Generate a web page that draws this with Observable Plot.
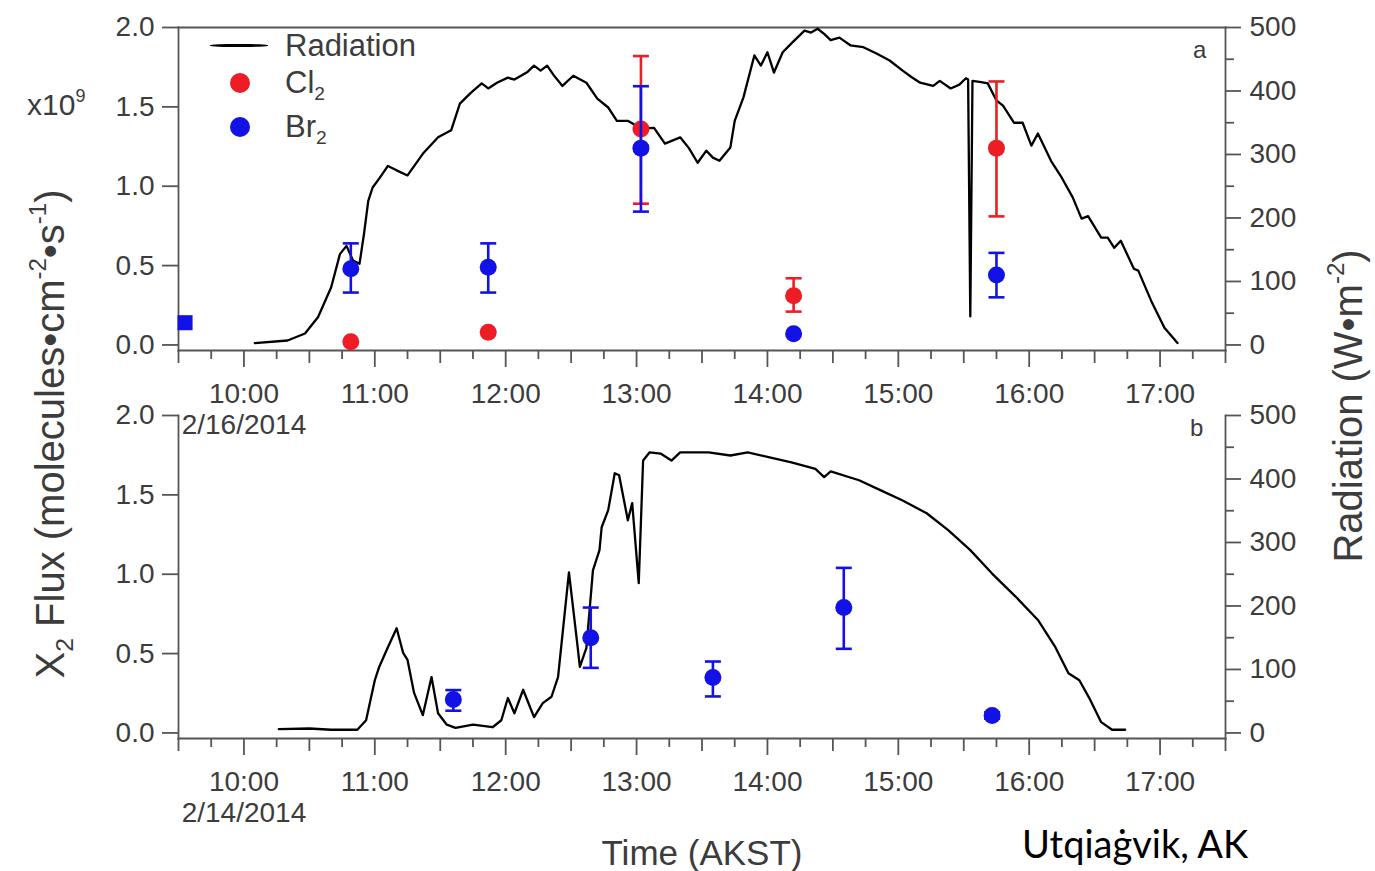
<!DOCTYPE html>
<html><head><meta charset="utf-8">
<script src="https://cdn.jsdelivr.net/npm/d3@7"></script>
<script src="https://cdn.jsdelivr.net/npm/@observablehq/plot@0.6"></script>
<style>
body{margin:0;background:#fff;}
#wrap{position:relative;width:1375px;height:871px;font-family:"Liberation Sans",Arial,sans-serif;color:#3c3c3c;overflow:hidden;background:#fff;}
#wrap svg{position:absolute;left:0;background:transparent;}
.lbl{position:absolute;white-space:nowrap;line-height:1;}
.lbl sub{font-size:0.62em;vertical-align:-0.35em;line-height:0;}
.lbl sup{font-size:0.6em;vertical-align:0.75em;line-height:0;}
.rot{transform:translate(-50%,-50%) rotate(-90deg);}
.dot{position:absolute;border-radius:50%;}
</style></head><body><div id="wrap"></div>
<script>
// ---------- Panel a: 2/16/2014 ----------
const topRadTime = ["10:05","10:20","10:28","10:34","10:40","10:44","10:47","10:50","10:53","10:55",
  "10:57","10:59","11:02","11:06","11:10","11:15","11:22","11:29","11:35","11:39",
  "11:44","11:49","11:52","11:56","12:01","12:04","12:07","12:10","12:13","12:16",
  "12:19","12:22","12:26","12:31","12:37","12:42","12:47","12:51","12:56","13:02",
  "13:08","13:13","13:20","13:24","13:28","13:32","13:35","13:38","13:43","13:45",
  "13:49","13:54","13:57","14:00","14:03","14:07","14:11","14:17","14:20","14:23",
  "14:26","14:29","14:33","14:38","14:44","14:50","14:56","15:02","15:06","15:10",
  "15:16","15:19","15:24","15:28","15:31","15:32","15:33","15:34","15:38","15:41",
  "15:45","15:48","15:53","15:57","16:01","16:04","16:10","16:15","16:20","16:24",
  "16:27","16:33","16:36","16:39","16:42","16:48","16:50","16:56","17:02","17:08"];
const topRadValue = [3,7,18,44,91,143,156,133,128,174,
  227,248,262,282,275,267,301,327,338,380,
  397,412,404,413,421,418,424,430,440,432,
  440,425,408,424,413,388,374,353,353,341,
  342,317,327,310,287,306,295,290,311,353,
  390,456,440,461,429,461,475,495,492,498,
  490,480,484,472,469,459,448,432,422,413,
  408,416,404,410,420,418,45,416,414,412,
  385,377,350,350,314,333,290,263,232,199,
  203,169,169,153,164,120,117,69,27,3];

const topCl2Time  = ["10:49","11:52","13:02","14:12","15:45"];
const topCl2Value = [0.02, 0.08, 1.36, 0.31, 1.24];
const topCl2Low   = [null, null, 0.89, 0.21, 0.81];
const topCl2High  = [null, null, 1.82, 0.42, 1.66];

const topBr2Time  = ["10:49","11:52","13:02","14:12","15:45"];
const topBr2Value = [0.48, 0.49, 1.24, 0.07, 0.44];
const topBr2Low   = [0.33, 0.33, 0.84, null, 0.30];
const topBr2High  = [0.64, 0.64, 1.63, null, 0.58];

const topBr2SquareTime  = ["09:33"];
const topBr2SquareValue = [0.14];

// ---------- Panel b: 2/14/2014 ----------
const botRadTime = ["10:16","10:30","10:40","10:52","10:56","11:00","11:02","11:06","11:10","11:13",
  "11:15","11:18","11:22","11:26","11:29","11:33","11:37","11:45","11:54","11:58",
  "12:01","12:04","12:08","12:13","12:17","12:21","12:24","12:29","12:33","12:34",
  "12:37","12:40","12:43","12:44","12:47","12:50","12:52","12:56","12:58","13:01",
  "13:03","13:06","13:11","13:16","13:20","13:33","13:43","13:51","14:01","14:11",
  "14:22","14:26","14:29","14:42","14:52","15:02","15:13","15:23","15:33","15:43",
  "15:54","16:04","16:12","16:18","16:23","16:28","16:33","16:38","16:44"];
const botRadValue = [6,7,5,5,20,83,104,135,165,126,
  115,63,28,88,31,13,8,13,9,20,
  55,31,68,25,47,57,88,253,135,104,
  134,256,288,324,351,409,406,335,362,236,
  429,442,440,429,442,442,437,442,434,426,
  416,403,412,398,382,366,346,319,288,251,
  214,178,135,94,83,52,17,5,5];

const botBr2Time  = ["11:36","12:39","13:35","14:35","15:43"];
const botBr2Value = [0.21, 0.60, 0.35, 0.79, 0.11];
const botBr2Low   = [0.14, 0.41, 0.23, 0.53, 0.09];
const botBr2High  = [0.27, 0.79, 0.45, 1.04, 0.13];

// ---------- axis tick labels ----------
const fluxTicks = [0, 0.5, 1.0, 1.5, 2.0];
const radTicks = [0, 100, 200, 300, 400, 500];
const radMinorTicks = [50, 150, 250, 350, 450];
const dateLabels = {a: "2/16/2014", b: "2/14/2014"};

const RED = "#ee1c25", BLUE = "#1212e6", AX = "#555", TXT = "#3c3c3c";
const RAD_PER_UNIT = 250; // 500 W/m2 on the right axis == 2.0 on the left axis
const parse = d3.utcParse("%H:%M");
const xDomain = [parse("09:30"), parse("17:30")];
const hourTicks = d3.utcHour.range(parse("10:00"), parse("17:01"));
const halfTicks = d3.utcMinute.every(30).range(xDomain[0], new Date(+xDomain[1] + 1)).filter(d => d.getUTCMinutes() === 30);
const quarterTicks = d3.utcMinute.every(15).range(xDomain[0], new Date(+xDomain[1] + 1)).filter(d => d.getUTCMinutes() % 30 === 15);

const capSymbol = {draw(ctx, size) { const w = Math.sqrt(size / Math.PI); ctx.moveTo(-w, 0); ctx.lineTo(w, 0); }};

function rows(times, values, lows, highs) {
  return times.map((t, i) => ({t: parse(t), v: values[i], lo: lows ? lows[i] : null, hi: highs ? highs[i] : null}));
}

function flux(data, color) {
  const eb = data.filter(d => d.lo != null);
  return [
    Plot.ruleX(eb, {x: "t", y1: "lo", y2: "hi", stroke: color, strokeWidth: 2.6}),
    Plot.dot(eb, {x: "t", y: "lo", symbol: capSymbol, r: 8, stroke: color, strokeWidth: 2.6}),
    Plot.dot(eb, {x: "t", y: "hi", symbol: capSymbol, r: 8, stroke: color, strokeWidth: 2.6}),
    Plot.dot(data, {x: "t", y: "v", r: 8.5, fill: color, stroke: "none"})
  ];
}

function panel({rad, series, square, date, frameTop}) {
  const radData = rad[0].map((t, i) => ({t: parse(t), rad: rad[1][i]}));
  const marks = [
    Plot.frame({anchor: "left", stroke: AX, strokeWidth: 1.8}),
    Plot.frame({anchor: "right", stroke: AX, strokeWidth: 1.8}),
    Plot.frame({anchor: "bottom", stroke: AX, strokeWidth: 1.8}),
    frameTop ? Plot.frame({anchor: "top", stroke: AX, strokeWidth: 1.8}) : null,
    Plot.axisX({anchor: "bottom", ticks: quarterTicks, tickSize: 9, tickFormat: () => "", stroke: AX, strokeWidth: 1.8, label: null}),
    Plot.axisX({anchor: "bottom", ticks: halfTicks, tickSize: 13, tickFormat: () => "", stroke: AX, strokeWidth: 1.8, label: null}),
    Plot.axisX({anchor: "bottom", ticks: hourTicks, tickSize: 17, tickPadding: 13, stroke: AX, strokeWidth: 1.8, fill: TXT,
      fontSize: 28, lineHeight: 1.12, label: null,
      tickFormat: d => { const s = d3.utcFormat("%H:%M")(d); return s === "10:00" ? s + "\n" + date : s; }}),
    Plot.axisY({anchor: "left", ticks: fluxTicks, tickSize: 16, tickPadding: 8, tickFormat: d3.format(".1f"),
      stroke: AX, strokeWidth: 1.8, fill: TXT, fontSize: 28, label: null}),
    Plot.axisY({anchor: "right", ticks: radMinorTicks.map(r => r / RAD_PER_UNIT), tickSize: 8, tickFormat: () => "",
      stroke: AX, strokeWidth: 1.8, label: null}),
    Plot.axisY({anchor: "right", ticks: radTicks.map(r => r / RAD_PER_UNIT), tickSize: 15, tickPadding: 9,
      tickFormat: d => String(Math.round(d * RAD_PER_UNIT)), stroke: AX, strokeWidth: 1.8, fill: TXT, fontSize: 28, label: null}),
    Plot.line(radData, {x: "t", y: d => d.rad / RAD_PER_UNIT, stroke: "#000", strokeWidth: 2.3, strokeLinejoin: "round"}),
    square ? Plot.dot(square, {x: "t", y: "v", symbol: "square", r: 8.5, fill: BLUE, stroke: "none"}) : null
  ];
  for (const s of series) marks.push(...flux(s.data, s.color));
  return Plot.plot({
    width: 1375, height: 480,
    marginTop: 27, marginLeft: 178, marginRight: 150, marginBottom: 130,
    style: {background: "transparent", color: TXT, fontFamily: "'Liberation Sans', Arial, sans-serif", overflow: "visible"},
    x: {type: "utc", domain: xDomain, label: null},
    y: {domain: [-0.035, 2.0], label: null},
    marks
  });
}

const wrap = document.getElementById("wrap");

const svgA = panel({
  rad: [topRadTime, topRadValue],
  series: [
    {data: rows(topCl2Time, topCl2Value, topCl2Low, topCl2High), color: RED},
    {data: rows(topBr2Time, topBr2Value, topBr2Low, topBr2High), color: BLUE}
  ],
  square: rows(topBr2SquareTime, topBr2SquareValue),
  date: dateLabels.a, frameTop: true
});
svgA.style.top = "0px";
wrap.appendChild(svgA);

const svgB = panel({
  rad: [botRadTime, botRadValue],
  series: [{data: rows(botBr2Time, botBr2Value, botBr2Low, botBr2High), color: BLUE}],
  square: null,
  date: dateLabels.b, frameTop: false
});
svgB.style.top = "388px";
wrap.appendChild(svgB);

// ---------- text & legend overlays ----------
function add(html, css, cls = "lbl") {
  const el = document.createElement("div");
  el.className = cls;
  el.innerHTML = html;
  Object.assign(el.style, css);
  wrap.appendChild(el);
  return el;
}
// legend
add("", {left: "210px", top: "44px", width: "58px", height: "2.5px", background: "#000"}, "dot");
add("Radiation", {left: "285px", top: "30px", fontSize: "31px"});
add("", {left: "230px", top: "73px", width: "20px", height: "20px", background: RED}, "dot");
add("Cl<sub>2</sub>", {left: "285px", top: "67px", fontSize: "31px"});
add("", {left: "230px", top: "117px", width: "20px", height: "20px", background: BLUE}, "dot");
add("Br<sub>2</sub>", {left: "285px", top: "111px", fontSize: "31px"});
// multiplier
add("x10<sup>9</sup>", {left: "27px", top: "90px", fontSize: "30px"});
// panel letters
add("a", {left: "1193px", top: "38px", fontSize: "24px"});
add("b", {left: "1190px", top: "416px", fontSize: "24px"});
// axis titles
add("X<sub>2</sub> Flux (molecules•cm<sup>-2</sup>•s<sup>-1</sup>)", {left: "50px", top: "434px", fontSize: "40px"}, "lbl rot");
add("Radiation (W•m<sup>-2</sup>)", {left: "1348px", top: "406px", fontSize: "40px"}, "lbl rot");
add("Time (AKST)", {left: "702px", top: "852px", fontSize: "35px", transform: "translate(-50%,-50%)"});
add("Utqiaġvik, AK", {left: "1022px", top: "843px", fontSize: "38px", fontFamily: "Lato, 'Open Sans', sans-serif", color: "#000", transform: "translateY(-50%)"});
</script>
</body></html>
